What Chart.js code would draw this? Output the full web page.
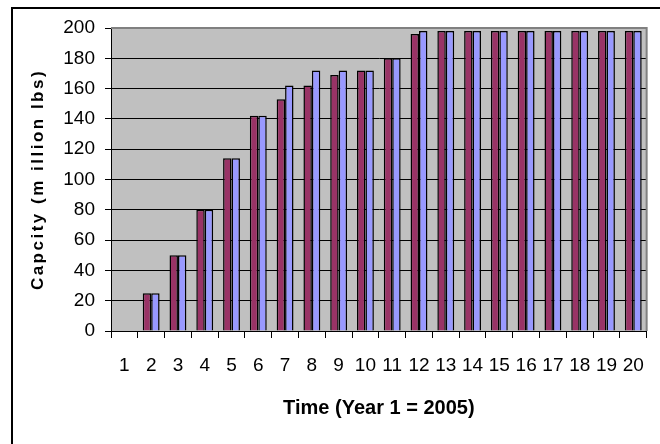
<!DOCTYPE html>
<html><head><meta charset="utf-8">
<script src="https://cdn.jsdelivr.net/npm/chart.js@4/dist/chart.umd.min.js"></script>
<style>
html,body{margin:0;padding:0;background:#fff;}
#wrap{position:relative;width:660px;height:444px;overflow:hidden;}
#frame{position:absolute;left:11px;top:7px;width:700px;height:500px;border-left:2px solid #000;border-top:2px solid #000;}
canvas{position:absolute;left:0;top:0;}
</style></head>
<body><div id="wrap"><div id="frame"></div><canvas id="c" width="660" height="444"></canvas></div>
<script>
const years = ['1','2','3','4','5','6','7','8','9','10','11','12','13','14','15','16','17','18','19','20'];
const seriesA = [0, 25, 50, 80, 114, 142, 153, 162, 169, 172, 180, 196, 198, 198, 198, 198, 198, 198, 198, 198];
const seriesB = [0, 25, 50, 80, 114, 142, 162, 172, 172, 172, 180, 198, 198, 198, 198, 198, 198, 198, 198, 198];
const yTicks = [0, 20, 40, 60, 80, 100, 120, 140, 160, 180, 200];
const yTitle = 'Capcity (m illion lbs)';
const xTitle = 'Time (Year 1 = 2005)';

const plotDeco = {
  id: 'plotDeco',
  beforeDraw(chart) {
    const {ctx, chartArea: a} = chart;
    ctx.save();
    ctx.fillStyle = '#C0C0C0';
    ctx.fillRect(a.left, a.top, a.right - a.left, a.bottom - a.top);
    ctx.restore();
    const y = chart.scales.y;
    if (y && !y._lsPatched) {
      const orig = y.drawTitle;
      y.drawTitle = function() {
        this.ctx.save();
        this.ctx.letterSpacing = '2.5px';
        orig.call(this);
        this.ctx.restore();
      };
      y._lsPatched = true;
    }
  },
  afterDatasetsDraw(chart) {
    const {ctx, chartArea: a} = chart;
    ctx.save();
    ctx.strokeStyle = '#808080';
    ctx.lineWidth = 2;
    ctx.beginPath();
    ctx.moveTo(a.left, a.top);
    ctx.lineTo(a.right, a.top);
    ctx.lineTo(a.right, a.bottom);
    ctx.stroke();
    ctx.restore();
  }
};

new Chart(document.getElementById('c'), {
  type: 'bar',
  data: {
    labels: years,
    datasets: [
      {label: 'Series 1', data: seriesA, backgroundColor: '#993366', borderColor: '#000', borderWidth: 1.5, borderSkipped: 'start'},
      {label: 'Series 2', data: seriesB, backgroundColor: '#9999FF', borderColor: '#000', borderWidth: 1.5, borderSkipped: 'start'}
    ]
  },
  options: {
    responsive: false,
    devicePixelRatio: 1,
    animation: false,
    events: [],
    datasets: {bar: {categoryPercentage: 0.63, barPercentage: 1.0}},
    layout: {padding: {left: 0, top: 28, right: 7, bottom: 0}},
    plugins: {legend: {display: false}, tooltip: {enabled: false}},
    scales: {
      x: {
        afterFit(s) { s.height = 113; },
        grid: {offset: true, drawOnChartArea: false, drawTicks: true, tickLength: 7, color: '#000', lineWidth: 1},
        border: {color: '#000', width: 1},
        ticks: {color: '#000', padding: 16, maxRotation: 0, autoSkip: false,
                font: {family: "'Liberation Sans', Arial, sans-serif", size: 19}},
        title: {display: true, text: xTitle, color: '#000',
                font: {family: "'Liberation Sans', Arial, sans-serif", size: 20, weight: 'bold'},
                padding: {top: 0, bottom: 24}}
      },
      y: {
        min: 0, max: 200,
        afterBuildTicks(s) { s.ticks = yTicks.map(v => ({value: v})); },
        afterFit(s) { s.width = 111; },
        grid: {color: '#000', lineWidth: 1, drawTicks: true, tickLength: 6},
        border: {color: '#000', width: 1},
        ticks: {color: '#000', padding: 10,
                font: {family: "'Liberation Sans', Arial, sans-serif", size: 19}},
        title: {display: true, text: yTitle, color: '#000',
                font: {family: "'Liberation Sans', Arial, sans-serif", size: 17, weight: 'bold'},
                padding: {top: 28, bottom: 0}}
      }
    }
  },
  plugins: [plotDeco]
});
</script>
</body></html>
